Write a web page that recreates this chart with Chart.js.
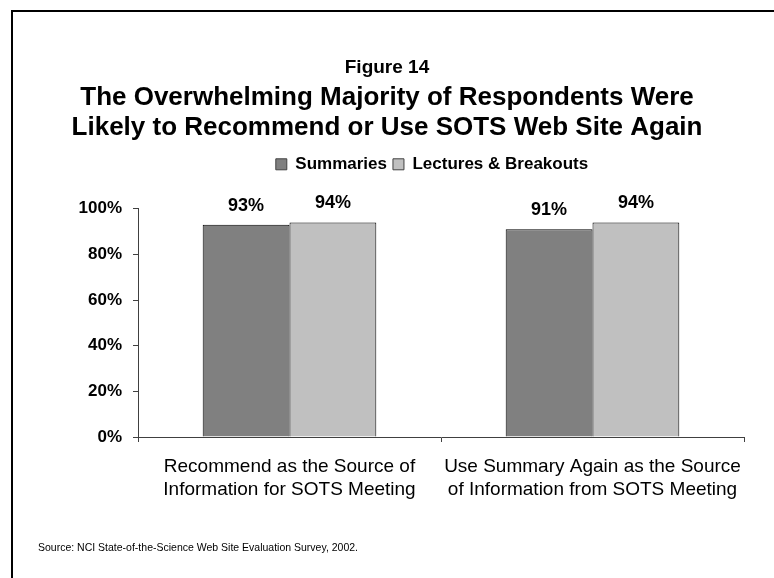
<!DOCTYPE html>
<html>
<head>
<meta charset="utf-8">
<script src="https://cdn.jsdelivr.net/npm/chart.js@4/dist/chart.umd.min.js"></script>
<style>
  html, body { margin: 0; padding: 0; background: #fff; }
  #wrap { width: 774px; height: 578px; position: relative; }
</style>
</head>
<body>
<div id="wrap"><canvas id="c" width="774" height="578"></canvas></div>
<script>
// Survey results
const categories = [
  ['Recommend as the Source of', 'Information for SOTS Meeting'],
  ['Use Summary Again as the Source', 'of Information from SOTS Meeting']
];
const seriesNames = ['Summaries', 'Lectures & Breakouts'];
const summaries = [93, 91];
const lectures = [94, 94];
const yTicks = [0, 20, 40, 60, 80, 100];

const FONT = '"Liberation Sans", Arial, Helvetica, sans-serif';
const LEGEND_GAP = 26;    // extra space between legend and plot
const LEGEND_SHIFT = 45;  // legend sits right of centre

// White page with a framed border on the left and top, plus source note
const framePlugin = {
  id: 'frame',
  beforeInit(chart) {
    const legend = chart.legend;
    if (legend) {
      const fit = legend.fit;
      legend.fit = function () {
        fit.call(this);
        this.height += LEGEND_GAP;
      };
      const draw = legend.draw;
      legend.draw = function () {
        this.left += LEGEND_SHIFT;
        this.right += LEGEND_SHIFT;
        draw.call(this);
        this.left -= LEGEND_SHIFT;
        this.right -= LEGEND_SHIFT;
      };
    }
  },
  beforeDraw(chart) {
    const ctx = chart.ctx;
    ctx.save();
    ctx.fillStyle = '#ffffff';
    ctx.fillRect(0, 0, chart.width, chart.height);
    ctx.strokeStyle = '#000000';
    ctx.lineWidth = 2;
    ctx.beginPath();
    ctx.moveTo(12, chart.height);
    ctx.lineTo(12, 11);
    ctx.lineTo(chart.width, 11);
    ctx.stroke();
    ctx.restore();
  },
  afterDraw(chart) {
    const ctx = chart.ctx;
    ctx.save();
    ctx.fillStyle = '#000000';
    ctx.font = '10.5px ' + FONT;
    ctx.textAlign = 'left';
    ctx.textBaseline = 'alphabetic';
    ctx.fillText('Source: NCI State-of-the-Science Web Site Evaluation Survey, 2002.', 38, 551);
    ctx.restore();
  }
};

// Percent labels above each bar
const valueLabels = {
  id: 'valueLabels',
  afterDatasetsDraw(chart) {
    const ctx = chart.ctx;
    ctx.save();
    ctx.fillStyle = '#000000';
    ctx.font = 'bold 18px ' + FONT;
    ctx.textAlign = 'center';
    ctx.textBaseline = 'middle';
    chart.data.datasets.forEach((ds, di) => {
      const meta = chart.getDatasetMeta(di);
      meta.data.forEach((bar, i) => {
        ctx.fillText(ds.data[i] + '%', bar.x, bar.y - 19);
      });
    });
    ctx.restore();
  }
};

new Chart(document.getElementById('c'), {
  type: 'bar',
  data: {
    labels: categories,
    datasets: [
      {
        label: seriesNames[0],
        data: summaries,
        backgroundColor: '#808080',
        borderColor: '#000000',
        borderWidth: 1,
        categoryPercentage: 0.573,
        barPercentage: 1.0
      },
      {
        label: seriesNames[1],
        data: lectures,
        backgroundColor: '#c0c0c0',
        borderColor: '#000000',
        borderWidth: 1,
        categoryPercentage: 0.573,
        barPercentage: 1.0
      }
    ]
  },
  options: {
    responsive: false,
    animation: false,
    devicePixelRatio: 1,
    layout: { padding: { left: 0, right: 0, top: 56, bottom: 0 } },
    plugins: {
      title: {
        display: true,
        text: 'Figure 14',
        color: '#000000',
        font: { family: FONT, size: 19, weight: 'bold', lineHeight: 1.2 },
        padding: { top: 0, bottom: 4 }
      },
      subtitle: {
        display: true,
        text: [
          'The Overwhelming Majority of Respondents Were',
          'Likely to Recommend or Use SOTS Web Site Again'
        ],
        color: '#000000',
        font: { family: FONT, size: 26, weight: 'bold', lineHeight: 30 / 26 },
        padding: { top: 0, bottom: 7 }
      },
      legend: {
        display: true,
        position: 'top',
        labels: {
          color: '#000000',
          font: { family: FONT, size: 17, weight: 'bold' },
          boxWidth: 11,
          boxHeight: 11,
          padding: 6,
          generateLabels(chart) {
            return chart.data.datasets.map((ds, i) => ({
              text: ds.label,
              fillStyle: ds.backgroundColor,
              strokeStyle: '#404040',
              lineWidth: 1,
              hidden: false,
              datasetIndex: i,
              fontColor: '#000000'
            }));
          }
        }
      },
      tooltip: { enabled: false }
    },
    scales: {
      x: {
        grid: {
          display: true,
          offset: true,
          drawOnChartArea: false,
          drawTicks: true,
          tickLength: 5,
          color: '#404040'
        },
        border: { display: true, color: '#404040', width: 1 },
        ticks: {
          color: '#000000',
          font: { family: FONT, size: 19, lineHeight: 23 / 19 },
          padding: 13,
          maxRotation: 0,
          autoSkip: false
        },
        afterFit(scale) { scale.height = 141; }
      },
      y: {
        min: 0,
        max: 100,
        afterBuildTicks(scale) {
          scale.ticks = yTicks.map(v => ({ value: v }));
        },
        grid: {
          display: true,
          drawOnChartArea: false,
          drawTicks: true,
          tickLength: 5,
          color: '#404040'
        },
        border: { display: true, color: '#404040', width: 1 },
        ticks: {
          color: '#000000',
          font: { family: FONT, size: 17, weight: 'bold' },
          padding: 11,
          callback: v => v + '%'
        },
        afterFit(scale) { scale.width = 138; }
      },
      // empty right-hand margin beside the plot
      gutter: {
        type: 'linear',
        position: 'right',
        display: true,
        grid: { display: false },
        border: { display: false },
        ticks: { display: false },
        afterFit(scale) { scale.width = 30; }
      }
    }
  },
  plugins: [framePlugin, valueLabels]
});
</script>
</body>
</html>
